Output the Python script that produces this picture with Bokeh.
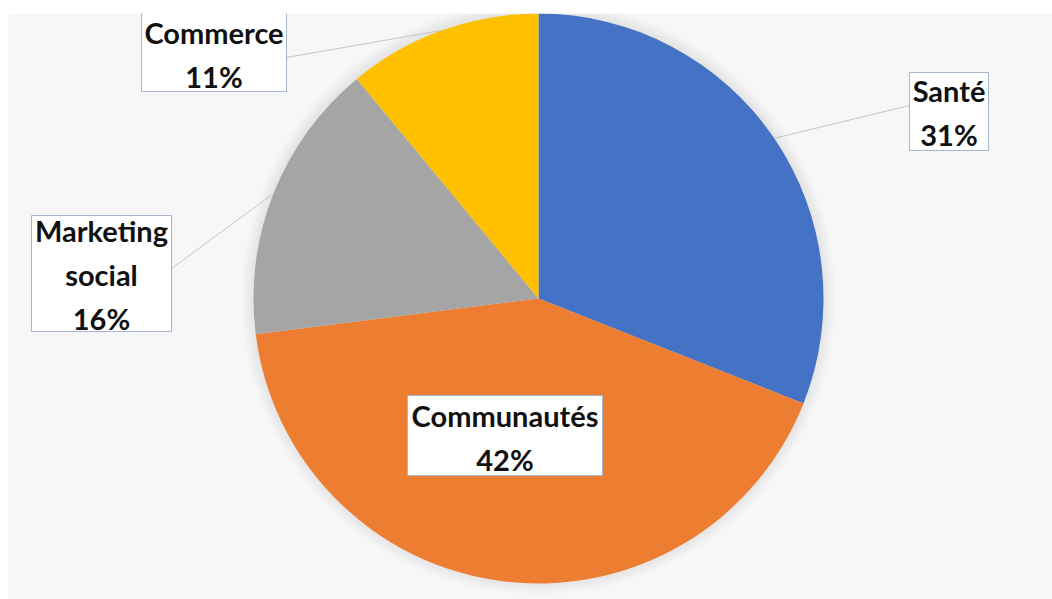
import math
from bokeh.plotting import figure
from bokeh.models import Range1d, ColumnDataSource
from bokeh.embed import file_html
from bokeh.resources import INLINE
from bokeh.core.properties import value

# ---- data ----
categories = ["Santé", "Communautés", "Marketing social", "Commerce"]
shares = [31, 42, 16, 11]
colors = ["#4472C4", "#ED7D31", "#A5A5A5", "#FFC000"]
label_names = ["Santé", "Communautés", "Marketing\nsocial", "Commerce"]

# ---- layout (screen-pixel based coordinates, y downward -> negated) ----
CX, CY, R = 538, -298, 285
# box: left, right, top, bottom (screen), text centre (x, y), leader start (x, y) or None
boxes = [
    (909, 988, 72, 150, 948.5, 112, (909, 105)),
    (407, 602, 395, 475, 504.5, 437, None),
    (31, 171, 215, 331, 101, 274, (171, 268)),
    (141, 286, 5, 91, 213.5, 54, (286, 57)),
]

p = figure(width=1052, height=599, output_backend="svg", toolbar_location=None,
           x_range=Range1d(8, 1052), y_range=Range1d(-599, -13),
           min_border_top=13, min_border_left=8, min_border_right=0, min_border_bottom=0)
p.background_fill_color = "#f7f7f7"
p.border_fill_color = "white"
p.outline_line_color = None
p.axis.visible = False
p.grid.visible = False

# soft shadow / glow around the pie
for i in range(1, 7):
    p.circle(x=[CX], y=[CY + 1], radius=R + 2 * i, fill_color="#000000",
             fill_alpha=0.012, line_color=None)

# wedges
total = float(sum(shares))
starts, ends, mids = [], [], []
cum = 0.0
for s in shares:
    a0 = math.pi / 2 - 2 * math.pi * cum / total
    cum += s
    a1 = math.pi / 2 - 2 * math.pi * cum / total
    starts.append(a0)
    ends.append(a1)
    mids.append((a0 + a1) / 2)

src = ColumnDataSource(dict(start=starts, end=ends, color=colors))
p.wedge(x=CX, y=CY, radius=R, start_angle="start", end_angle="end",
        direction="clock", fill_color="color", line_color=None, source=src)

# leader lines
for (l, r, t, b, tx, ty, lead), m in zip(boxes, mids):
    if lead is None:
        continue
    ex = CX + R * math.cos(m)
    ey = CY + R * math.sin(m)
    p.line(x=[lead[0], ex], y=[-lead[1], ey], line_color="#c6c6c6", line_width=1)

# label boxes
p.quad(left=[b[0] for b in boxes], right=[b[1] for b in boxes],
       top=[-b[2] for b in boxes], bottom=[-b[3] for b in boxes],
       fill_color="white", line_color="#a7b6cf", line_width=1)

texts = [f"{n}\n{s}%" for n, s in zip(label_names, shares)]
p.text(x=[b[4] for b in boxes], y=[-b[5] for b in boxes], text=texts,
       text_align="center", text_baseline="middle",
       text_font=value("Lato"), text_font_style="bold", text_font_size="29px",
       text_line_height=1.26, text_color="#111111")

open("out.html", "w").write(file_html(p, INLINE))
